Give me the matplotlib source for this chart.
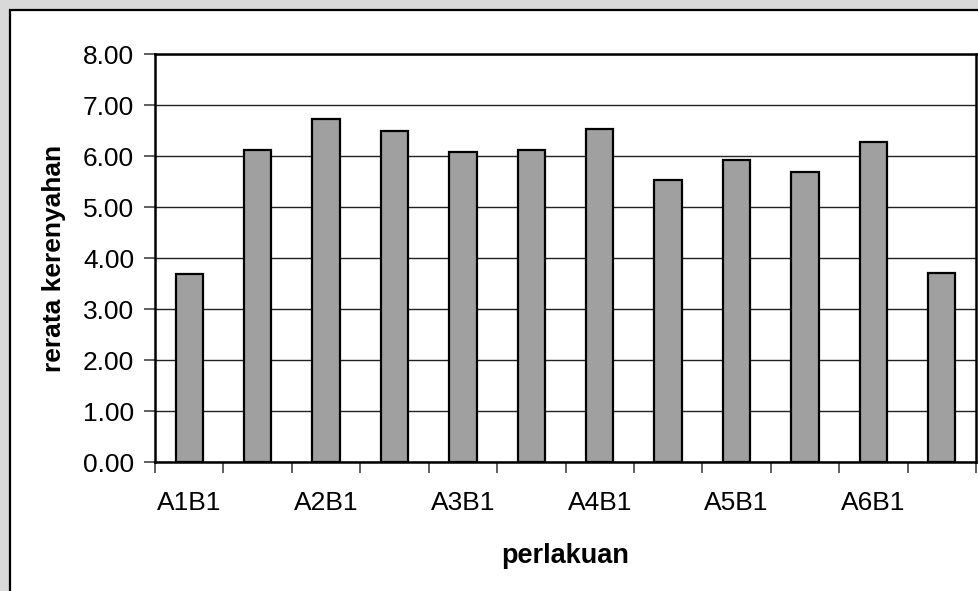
import matplotlib
matplotlib.use("Agg")
import matplotlib.pyplot as plt
from matplotlib.patches import Rectangle
from matplotlib.ticker import FixedLocator, NullFormatter
import numpy as np

plt.rcParams['font.family'] = ['Liberation Sans', 'DejaVu Sans']

# Treatment combinations (A = factor A level, B = factor B level)
categories = ["A1B1", "A1B2", "A2B1", "A2B2", "A3B1", "A3B2",
              "A4B1", "A4B2", "A5B1", "A5B2", "A6B1", "A6B2"]
# Mean crispiness score per treatment
values = [3.69, 6.13, 6.73, 6.49, 6.09, 6.13,
          6.54, 5.54, 5.93, 5.70, 6.29, 3.72]
yticks = [0, 1, 2, 3, 4, 5, 6, 7, 8]

W, H = 979, 591
FS = 19
fig = plt.figure(figsize=(W / 100, H / 100), dpi=100, facecolor="#d9d9d9")

# white chart panel with its frame
panel = Rectangle((10 / W, -0.05), 1.1, 1 - 10 / H + 0.05,
                  transform=fig.transFigure, facecolor="white",
                  edgecolor="black", linewidth=1.6, zorder=-5)
fig.patches.append(panel)

ax = fig.add_axes([155 / W, (H - 462.3) / H, (976 - 155) / W, (462.3 - 54.3) / H])
ax.set_facecolor("white")

x = np.arange(len(categories))
ax.bar(x, values, width=0.4, color="#a0a0a0", edgecolor="black",
       linewidth=1.6, zorder=3)

ax.set_xlim(-0.5, len(categories) - 0.5)
ax.set_ylim(0, 8)

ax.set_yticks(yticks)
ax.set_yticklabels([f"{v:.2f}" for v in yticks], fontsize=FS)
ax.yaxis.grid(True, color="#222222", linewidth=1.0, zorder=1)
ax.set_axisbelow(True)
ax.tick_params(axis="y", direction="out", length=8, width=1.2, pad=7,
               color="#444444")

# tick marks at category boundaries, labels on every other category
ax.xaxis.set_major_locator(FixedLocator(np.arange(-0.5, len(categories), 1.0)))
ax.xaxis.set_major_formatter(NullFormatter())
ax.xaxis.set_minor_locator(FixedLocator(x[::2]))
ax.set_xticklabels(categories[::2], minor=True, fontsize=FS)
ax.tick_params(axis="x", which="major", direction="out", length=8, width=1.2,
               color="#444444")
ax.tick_params(axis="x", which="minor", length=0, pad=21)

for side in ["left", "bottom", "top", "right"]:
    ax.spines[side].set_color("black")
    ax.spines[side].set_linewidth(1.8)

ax.set_xlabel("perlakuan", fontsize=FS + 0.5, fontweight="bold", labelpad=20)
ax.set_ylabel("rerata kerenyahan", fontsize=FS, fontweight="bold", labelpad=12)

fig.savefig("out.png", dpi=100, facecolor=fig.get_facecolor())
